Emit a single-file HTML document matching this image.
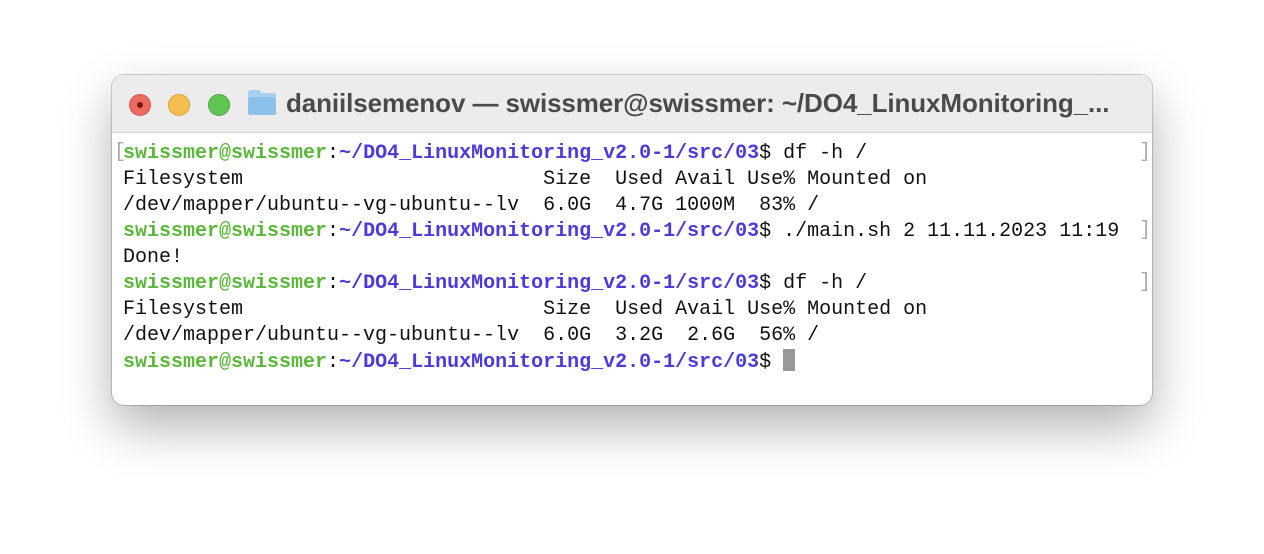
<!DOCTYPE html>
<html><head><style>
body{margin:0;width:1264px;height:554px;background:#fff;position:relative;overflow:hidden;font-family:"Liberation Sans",sans-serif}
.win{position:absolute;left:112px;top:75px;width:1040px;height:330px;border-radius:12px;background:#fff;box-shadow:0 22px 50px rgba(0,0,0,0.30),0 0 0 1px rgba(0,0,0,0.18);overflow:hidden}
.tb{position:absolute;left:0;top:0;width:100%;height:57px;background:#ececec;border-bottom:1px solid #d6d6d6}
.dot{position:absolute;top:19px;width:20px;height:20px;border-radius:50%}
.title{position:absolute;left:174px;top:13px;font-size:26px;font-weight:bold;color:#4a4a4a;white-space:nowrap;letter-spacing:-0.1px}
.term{position:absolute;left:11px;top:66px;font-family:"Liberation Mono",monospace;font-size:20px;line-height:26px;color:#111;white-space:pre}
.g{color:#5cb83a;font-weight:bold}.b{color:#4b3bdc;font-weight:bold}
.br{position:absolute;font-family:"Liberation Mono",monospace;font-size:20px;color:#aaa}
.cur{display:inline-block;width:12px;height:22px;background:#999;vertical-align:-4px}
</style></head><body>
<div class="win">
<div class="tb">
<div class="dot" style="left:17px;background:#ed6a5e;border:1px solid #d5564b"><div style="position:absolute;left:7px;top:7px;width:6px;height:6px;border-radius:50%;background:#7a1410"></div></div>
<div class="dot" style="left:56px;background:#f5bf4f;border:1px solid #d9a23c"></div>
<div class="dot" style="left:96px;background:#61c554;border:1px solid #4fa83f"></div>
<svg style="position:absolute;left:135px;top:14px" width="30" height="27"><path d="M1 4 q0-3 3-3 h8 l3 3 h12 q2 0 2 2 v18 q0 2-2 2 h-24 q-2 0-2-2z" fill="#a9d0f0"/><rect x="1" y="8" width="28" height="18" rx="2" fill="#8ec1ea"/></svg>
<div class="title">daniilsemenov — swissmer@swissmer: ~/DO4_LinuxMonitoring_...</div>
</div>
<div class="br" style="left:2px;top:66px">[</div><div class="br" style="left:1027px;top:66px">]</div>
<div class="br" style="left:1027px;top:144px">]</div>
<div class="br" style="left:1027px;top:196px">]</div>
<div class="term"><span class="g">swissmer@swissmer</span>:<span class="b">~/DO4_LinuxMonitoring_v2.0-1/src/03</span>$ df -h /
Filesystem                         Size  Used Avail Use% Mounted on
/dev/mapper/ubuntu--vg-ubuntu--lv  6.0G  4.7G 1000M  83% /
<span class="g">swissmer@swissmer</span>:<span class="b">~/DO4_LinuxMonitoring_v2.0-1/src/03</span>$ ./main.sh 2 11.11.2023 11:19
Done!
<span class="g">swissmer@swissmer</span>:<span class="b">~/DO4_LinuxMonitoring_v2.0-1/src/03</span>$ df -h /
Filesystem                         Size  Used Avail Use% Mounted on
/dev/mapper/ubuntu--vg-ubuntu--lv  6.0G  3.2G  2.6G  56% /
<span class="g">swissmer@swissmer</span>:<span class="b">~/DO4_LinuxMonitoring_v2.0-1/src/03</span>$ <span class="cur"></span></div>
</div>
</body></html>
